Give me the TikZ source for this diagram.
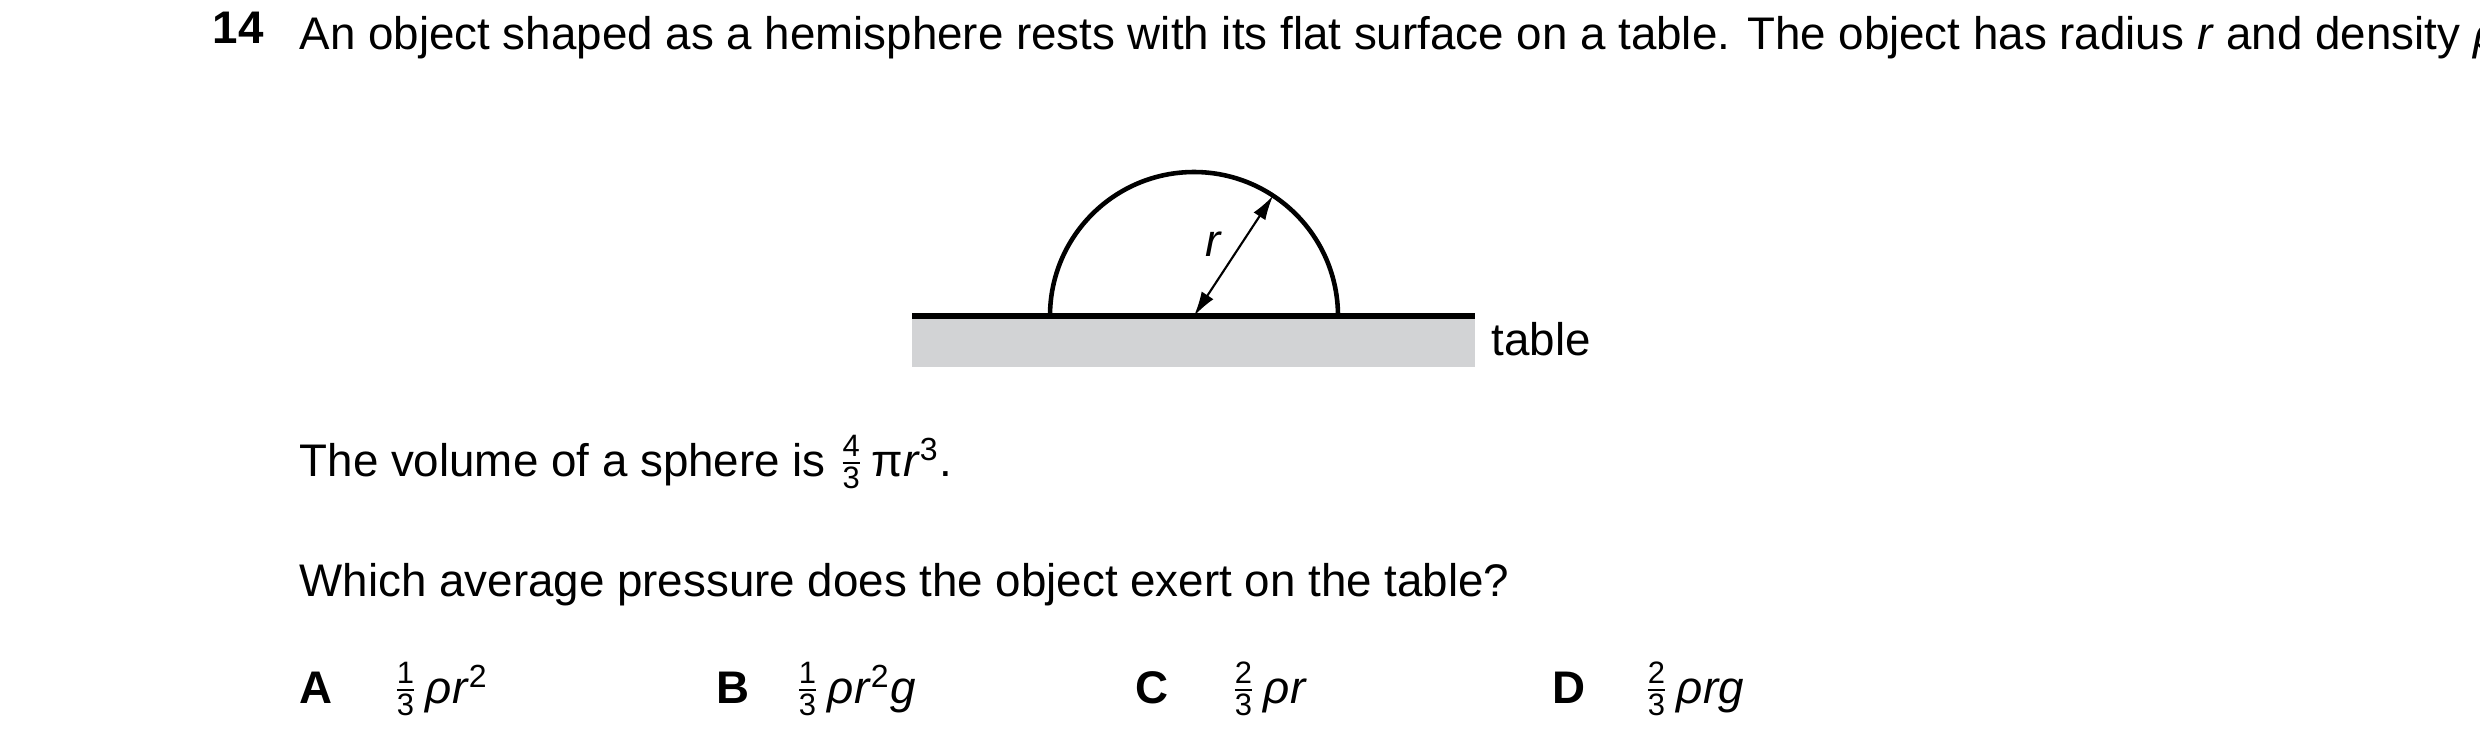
\documentclass[tikz,border=0pt]{standalone}
\usepackage{amsmath}
\usepackage{fontspec}
\setmainfont{Liberation Sans}
\usetikzlibrary{arrows.meta,calc}
\newcommand\fr[2]{\raisebox{0.1ex}{$\genfrac{}{}{0.4pt}{}{\text{\fontsize{8.8}{9}\selectfont #1}}{\text{\fontsize{8.8}{9}\selectfont #2}}$}}
\begin{document}
\begin{tikzpicture}[x=0.01cm,y=0.01cm,
  txt/.style={anchor=base west,inner sep=0,font=\fontsize{13}{15.9}\selectfont},
  lbl/.style={anchor=base west,inner sep=0,font=\fontsize{13}{15.9}\selectfont\bfseries}]
\useasboundingbox (0,0) rectangle (2480,753);
\fill[white] (0,0) rectangle (2480,753);
\node[lbl] (num) at (212,710) {14};
\node[txt,anchor=north west,text width=1998,align=justify] (p) at (299,737)
 {An object shaped as a hemisphere rests with its flat surface on a table. The object has radius \textit{r} and density \textit{ρ}.};
% table
\fill[fill={rgb,255:red,210;green,211;blue,213}] (912,386) rectangle (1475,437);
\coordinate (c) at (1194,437);
\draw[line width=1.6pt] (912,437) -- (1475,437);
\draw[line width=1.3pt] (1050,437) arc (180:0:144);
\draw[line width=1.3pt] (1050,437) -- (1338,437);
\coordinate (e) at ($(c)+(56.7:144)$);
\draw[line width=0.6pt,{Latex[length=7pt,width=4pt]}-{Latex[length=7pt,width=4pt]}] (c) -- (e);
\node[txt] (r) at (1205,497) {\textit{r}};
\node[txt] (tab) at (1491,398) {table};
\node[txt] (vol) at (299,277) {The volume of a sphere is \fr{4}{3}\,π\textit{r}\textsuperscript{3}.};
\node[txt] (q) at (299,157) {Which average pressure does the object exert on the table?};
\node[lbl] (A) at (299,50) {A};
\node[txt] (a) at (392,50) {\fr{1}{3}\,\textit{ρr}\textsuperscript{2}};
\node[lbl] (B) at (716,50) {B};
\node[txt] (b) at (794,50) {\fr{1}{3}\,\textit{ρr}\textsuperscript{2}\textit{g}};
\node[lbl] (C) at (1135,50) {C};
\node[txt] (cc) at (1230,50) {\fr{2}{3}\,\textit{ρr}};
\node[lbl] (D) at (1552,50) {D};
\node[txt] (d) at (1643,50) {\fr{2}{3}\,\textit{ρrg}};
\end{tikzpicture}
\end{document}
